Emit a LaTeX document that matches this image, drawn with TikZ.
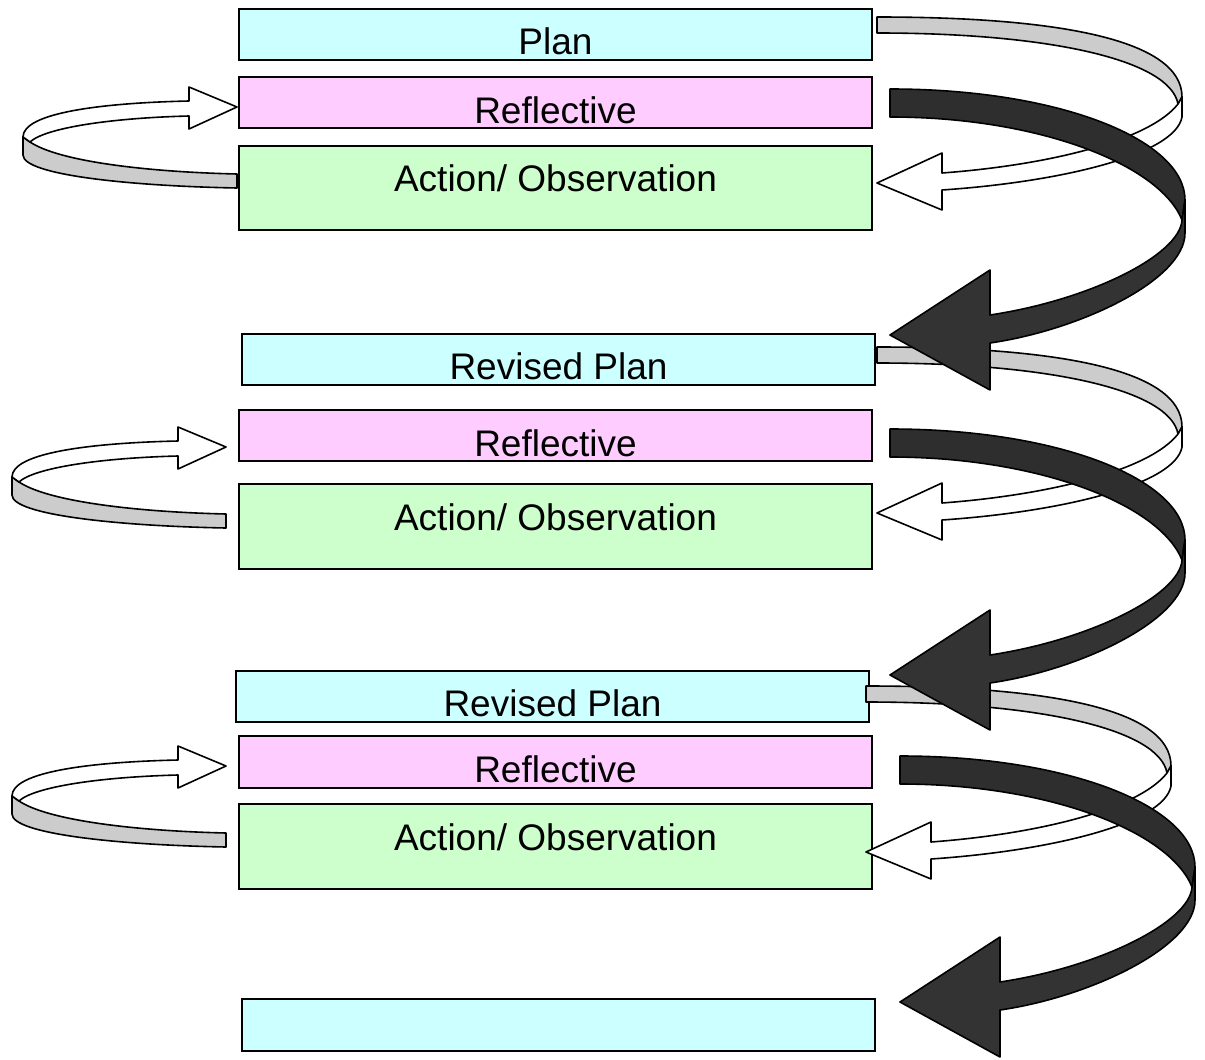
\documentclass[tikz,border=0pt]{standalone}
\usepackage{fontspec}
\setmainfont{Liberation Sans}
\definecolor{plancol}{HTML}{CCFFFF}
\definecolor{reflcol}{HTML}{FFCCFF}
\definecolor{actcol}{HTML}{CCFFCC}
\definecolor{backcol}{HTML}{CCCCCC}
\definecolor{darkcol}{HTML}{333333}

% loop on the left: reflective -> action
\newcommand{\leftloop}{%
\draw[band,fill=backcol] (237,174) .. controls (150,172) and (60,162) .. (30,142) -- (23,137) -- (23,155) .. controls (23,175) and (130,186) .. (237,188) -- cycle;
\draw[band,fill=white] (23,137) .. controls (23,113) and (100,103) .. (189,101) -- (189,87) -- (237,107) -- (189,129) -- (189,116) .. controls (110,118) and (45,128) .. (30,142) -- cycle;}

% loop on the right: plan -> action
\newcommand{\rightloop}{%
\draw[band,fill=backcol] (877,17) .. controls (1060,17) and (1182,40) .. (1182,97) -- (1178,104) .. controls (1170,60) and (1050,33) .. (877,33) -- cycle;
\draw[band,fill=white] (1182,97) -- (1182,117) .. controls (1175,155) and (1060,182) .. (942,190) -- (942,210) -- (877,183) -- (942,153) -- (942,173) .. controls (1050,165) and (1150,140) .. (1178,104) -- cycle;}

% big dark turn: reflective -> next plan
\newcommand{\darkturn}{%
\draw[band,fill=darkcol!90!black] (890,89) .. controls (1060,89) and (1185,140) .. (1185,200) -- (1182,220) .. controls (1160,165) and (1040,117) .. (890,117) -- cycle;
\draw[band,fill=darkcol] (1185,200) -- (1185,233) .. controls (1185,280) and (1080,330) .. (990,343) -- (990,390) -- (890,335) -- (990,270) -- (990,315) .. controls (1090,300) and (1180,255) .. (1182,220) -- cycle;}

\begin{document}
\begin{tikzpicture}[x=1pt,y=-1pt,
  box/.style={draw,line width=2pt,minimum width=633pt,inner sep=0pt,text height=46pt,anchor=north west,font=\fontsize{37}{44}\selectfont},
  band/.style={draw,line width=1.6pt,line join=round}]
\useasboundingbox (0,0) rectangle (1205,1060);

\node[box,fill=plancol,text depth=5.5pt] (plan1) at (238,7.5) {Plan};
\node[box,fill=reflcol,text depth=5pt] (refl1) at (238,76) {Reflective};
\node[box,fill=actcol,text depth=38.5pt] (act1) at (238,144.5) {Action/ Observation};

\node[box,fill=plancol,text depth=5.5pt] (plan2) at (241,332.5) {Revised Plan};
\node[box,fill=reflcol,text depth=5pt] (refl2) at (238,409) {Reflective};
\node[box,fill=actcol,text depth=39pt] (act2) at (238,483) {Action/ Observation};

\node[box,fill=plancol,text depth=5pt] (plan3) at (235,669.5) {Revised Plan};
\node[box,fill=reflcol,text depth=5.5pt] (refl3) at (238,735) {Reflective};
\node[box,fill=actcol,text depth=39pt] (act3) at (238,803) {Action/ Observation};

\node[box,fill=plancol,text depth=5.5pt] (plan4) at (241,998) {};

\foreach \dx/\dy in {0/0,-11/340,-11/659}
  {\begin{scope}[shift={(\dx,\dy)}] \leftloop \end{scope}}
\foreach \dx/\dy in {0/0,0/330,-11/669}
  {\begin{scope}[shift={(\dx,\dy)}] \rightloop \end{scope}}
\foreach \dx/\dy in {0/0,0/340,10/667}
  {\begin{scope}[shift={(\dx,\dy)}] \darkturn \end{scope}}
\end{tikzpicture}
\end{document}
